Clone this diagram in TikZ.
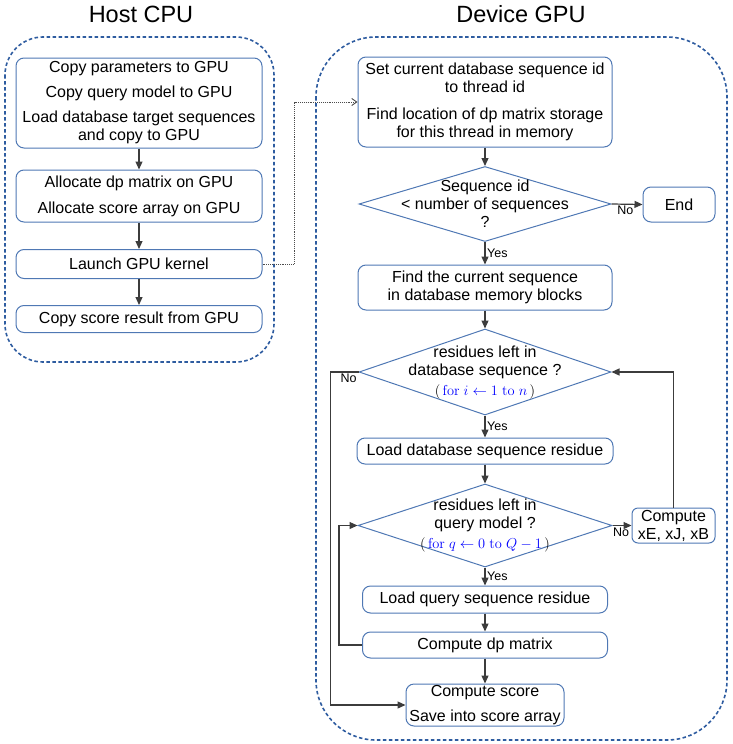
\documentclass[tikz,border=0pt]{standalone}
\usepackage[no-math]{fontspec}
\setmainfont{Liberation Sans}
\usepackage{amsmath, amssymb}
\usepackage{tikz}
\usetikzlibrary{shapes.geometric, arrows.meta}

\definecolor{frameblue}{RGB}{46,92,160}
\definecolor{boxblue}{RGB}{79,120,180}
\definecolor{linegray}{RGB}{60,60,60}

\tikzset{
  box/.style = {draw = boxblue, line width = 1pt, rounded corners = 8pt, align = center, inner sep = 0pt, font = \fontsize{16}{18}\selectfont},
  cond/.style = {draw = boxblue, line width = 1pt, diamond, inner sep = 0pt},
  condtext/.style = {align = center, inner sep = 0pt, font = \fontsize{16}{18}\selectfont},
  frame/.style = {draw = frameblue, line width = 1.6pt, dash pattern = on 3.5pt off 2.5pt},
  title/.style = {font = \fontsize{23.5}{26}\selectfont},
  arr/.style = {draw = linegray, line width = 1.2pt, -{Triangle[length = 8pt, width = 7pt]}},
  lbl/.style = {font = \fontsize{12.5}{14}\selectfont, inner sep = 1.5pt},
}
\newcommand{\loopfor}[1]{{\fontsize{15}{18}\selectfont$(\,\textcolor{blue}{#1}\,)$}}

\begin{document}
\begin{tikzpicture}[x = 1pt, y = -1pt]
\useasboundingbox (0,0) rectangle (733,744);

% titles
\node[title] (hosttitle) at (141,14) {Host CPU};
\node[title] (devtitle) at (521,14) {Device GPU};

% frames
\draw[frame, rounded corners = 38pt] (5,37) rectangle (274,362);
\draw[frame, rounded corners = 60pt] (316,37) rectangle (727,740);

% host side
\node[box, minimum width = 246pt, minimum height = 90pt] (copyparam) at (139,103) {Copy parameters to GPU\\[7pt] Copy query model to GPU\\[7pt] Load database target sequences\\ and copy to GPU};
\node[box, minimum width = 246pt, minimum height = 52pt] (alloc) at (139,196) {Allocate dp matrix on GPU\\[8pt] Allocate score array on GPU};
\node[box, minimum width = 246pt, minimum height = 29pt] (launch) at (139,264) {Launch GPU kernel};
\node[box, minimum width = 246pt, minimum height = 27pt] (copyscore) at (139,319) {Copy score result from GPU};

\draw[arr] (copyparam) -- (alloc);
\draw[arr] (alloc) -- (launch);
\draw[arr] (launch) -- (copyscore);

% device side
\node[box, minimum width = 254pt, minimum height = 90pt] (setid) at (485,102) {Set current database sequence id\\ to thread id\\[9pt] Find location of dp matrix storage\\ for this thread in memory};
\node[cond, minimum width = 252pt, minimum height = 75pt] (seqcheck) at (485,204) {};
\node[condtext] (seqtext) at (seqcheck) {Sequence id\\ < number of sequences\\ ?};
\node[box, minimum width = 72pt, minimum height = 35pt] (theend) at (679,204.5) {End};
\node[box, minimum width = 254pt, minimum height = 45pt] (findseq) at (485,287.5) {Find the current sequence\\ in database memory blocks};
\node[cond, minimum width = 252pt, minimum height = 86pt] (dbcheck) at (485,372) {};
\node[condtext] (dbtext) at (dbcheck) {residues left in\\ database sequence ?\\[2pt] \loopfor{\mathrm{for}\ i \leftarrow 1\ \mathrm{to}\ n}};
\node[box, minimum width = 256pt, minimum height = 26pt] (loaddb) at (485,451) {Load database sequence residue};
\node[cond, minimum width = 254pt, minimum height = 83pt] (qcheck) at (485,525.5) {};
\node[condtext] (qtext) at (qcheck) {residues left in\\ query model ?\\[2pt] \loopfor{\mathrm{for}\ q \leftarrow 0\ \mathrm{to}\ Q-1}};
\node[box, rounded corners = 6pt, minimum width = 83pt, minimum height = 35pt] (xcomp) at (673.5,525.5) {Compute\\ xE, xJ, xB};
\node[box, minimum width = 245pt, minimum height = 27pt] (loadq) at (485,599.5) {Load query sequence residue};
\node[box, minimum width = 245pt, minimum height = 26pt] (dpmat) at (485,645) {Compute dp matrix};
\node[box, minimum width = 158pt, minimum height = 42pt] (score) at (485,705) {Compute score\\[7pt] Save into score array};

% kernel launch
\draw[densely dotted, draw = black!70, line width = 0.9pt, -{Straight Barb[length = 5pt, width = 7pt]}] (launch.east) -- ++(32,0) |- (setid.west);

% device flow
\draw[arr] (setid) -- (seqcheck);
\draw[arr] (seqcheck.east) -- node[lbl, below, pos = 0.45] {No} (theend.west);
\draw[arr] (seqcheck.south) -- node[lbl, right, pos = 0.5] {Yes} (findseq.north);
\draw[arr] (findseq) -- (dbcheck);
\draw[arr] (dbcheck.south) -- node[lbl, right, pos = 0.5] {Yes} (loaddb.north);
\draw[arr] (loaddb) -- (qcheck);
\draw[arr] (qcheck.east) -- node[lbl, below, pos = 0.45] {No} (xcomp.west);
\draw[arr] (qcheck.south) -- node[lbl, right, pos = 0.5] {Yes} (loadq.north);
\draw[arr] (loadq) -- (dpmat);
\draw[arr] (dpmat) -- (score);
\draw[arr] (xcomp.north) |- (dbcheck.east);
\draw[arr] (dpmat.west) -- ++(-23,0) |- (qcheck.west);
\draw[arr] (dbcheck.west) -- node[lbl, below, pos = 0.35] {No} ++(-28,0) |- (score.west);
\end{tikzpicture}
\end{document}
